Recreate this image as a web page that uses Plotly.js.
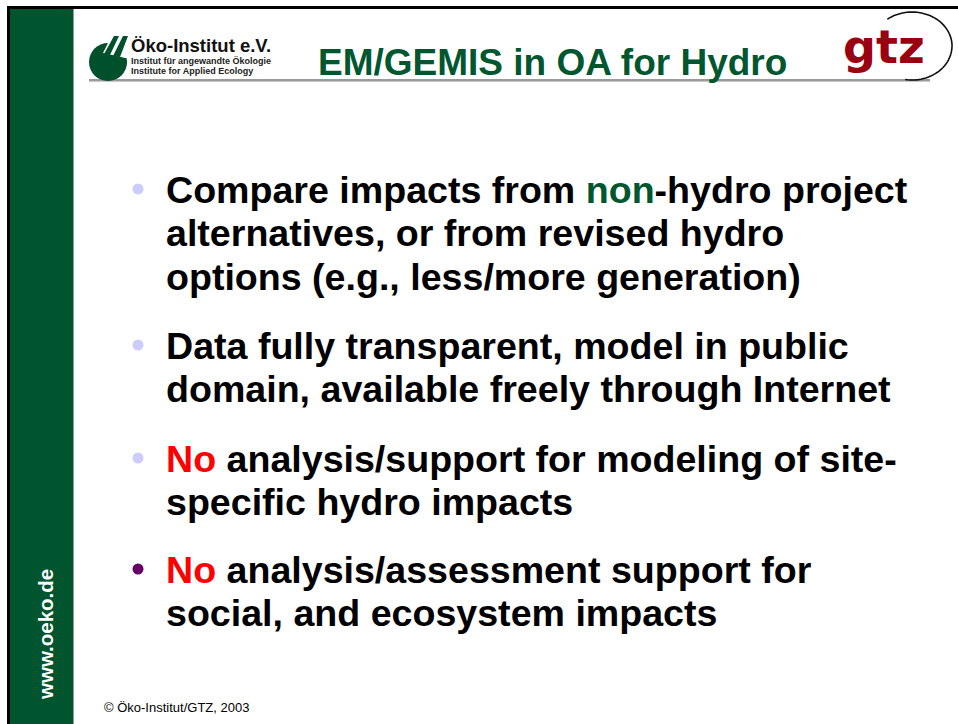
<!DOCTYPE html>
<html>
<head>
<meta charset="utf-8">
<script src="https://cdn.plot.ly/plotly-3.0.1.min.js"></script>
<style>
html,body{margin:0;padding:0;background:#fff;}
#slide{width:958px;height:724px;}
</style>
</head>
<body>
<div id="slide"></div>
<script>
// ---- content ----
const titleText = "EM/GEMIS in OA for Hydro";
const logoName = "Öko-Institut e.V.";
const logoSub = ["Institut für angewandte Ökologie", "Institute for Applied Ecology"];
const sideText = "www.oeko.de";
const footerText = "© Öko-Institut/GTZ, 2003";
const gtzText = "gtz";

const bullet1 = ["Compare impacts from <span style='color:#00562f'>non</span>-hydro project",
                 "alternatives, or from revised hydro",
                 "options (e.g., less/more generation)"];
const bullet2 = ["Data fully transparent, model in public",
                 "domain, available freely through Internet"];
const bullet3 = ["<span style='color:#ff0000'>No</span> analysis/support for modeling of site-",
                 "specific hydro impacts"];
const bullet4 = ["<span style='color:#ff0000'>No</span> analysis/assessment support for",
                 "social, and ecosystem impacts"];
const bullets = [bullet1, bullet2, bullet3, bullet4];
const bulletColors = ["#ccccff", "#ccccff", "#ccccff", "#660066"];

// ---- layout constants ----
const W = 958, H = 724;
const FONT = "Liberation Sans, Arial, sans-serif";
const green = "#00552f";
const bodySize = 37.6;
const firstBaselines = [203, 359, 472, 583];
const lineGap = 43.5;
const textX = 166;
const dotX = 138;

function baseY(baseline, size){ return baseline - 0.3465*size; }

const annotations = [];
function addText(text, x, baseline, size, color, opts){
  annotations.push(Object.assign({
    text: text, x: x, y: baseY(baseline, size), xref: 'x', yref: 'y',
    xanchor: 'left', yanchor: 'middle', showarrow: false,
    borderpad: 0, borderwidth: 0,
    font: {family: FONT, size: size, color: color, weight: 700}
  }, opts || {}));
}

// bullets
const dotXs = [], dotYs = [];
bullets.forEach((lines, i) => {
  lines.forEach((ln, j) => addText(ln, textX, firstBaselines[i] + j*lineGap, bodySize, "#000000"));
  dotXs.push(dotX); dotYs.push(firstBaselines[i] - 14);
});

// title
addText(titleText, 318, 75, 37, "#00572f", {});

// Oeko logo text
addText(logoName, 131, 52, 18.5, "#111111", {});
addText(logoSub[0], 131, 64, 9, "#222222", {});
addText(logoSub[1], 131, 74, 9, "#222222", {});

// gtz letters
addText(gtzText, 843, 63, 46, "#9a0010", {font:{family:"DejaVu Sans, sans-serif", size:46, color:"#9a0010", weight:700}});

// side text
annotations.push({text: sideText, x: 45, y: 635, xref:'x', yref:'y', showarrow:false,
  textangle: -90, xanchor:'center', yanchor:'middle', borderpad:0, borderwidth:0,
  font:{family: FONT, size: 20.5, color:"#ffffff", weight:700}});

// footer
addText(footerText, 104, 712, 13, "#000000", {font:{family:FONT, size:13, color:"#000000", weight:400}});

// ---- shapes ----
const shapes = [
  {type:'rect', xref:'x', yref:'y', x0:10, x1:73, y0:9, y1:H, fillcolor:green, line:{width:0}, layer:'below'},
  {type:'line', xref:'x', yref:'y', x0:73.5, x1:73.5, y0:9, y1:H, line:{color:'#9a9a9a', width:1}},
  {type:'line', xref:'x', yref:'y', x0:7, x1:W, y0:7.5, y1:7.5, line:{color:'#000000', width:3}},
  {type:'line', xref:'x', yref:'y', x0:8.5, x1:8.5, y0:6, y1:H, line:{color:'#000000', width:3}},
  {type:'line', xref:'x', yref:'y', x0:89, x1:930, y0:80, y1:80, line:{color:'#7a7a7a', width:1.5}},
  {type:'line', xref:'x', yref:'y', x0:89, x1:930, y0:81.5, y1:81.5, line:{color:'#c8c8c8', width:1}},
  // Oeko logo disc
  {type:'circle', xref:'x', yref:'y', x0:89, x1:127, y0:43, y1:81, fillcolor:'#00502c', line:{width:0}},
  // white wedge over the top right of the disc
  {type:'path', xref:'x', yref:'y', path:'M 103 53 L 113 33 L 135 33 L 135 58 L 125 58 Z', fillcolor:'#ffffff', line:{width:0}},
  // two slanted ticks
  {type:'path', xref:'x', yref:'y', path:'M 104 54 L 114 36 L 119 36 L 110 55 Z', fillcolor:'#00502c', line:{width:0}},
  {type:'path', xref:'x', yref:'y', path:'M 113 56 L 123 36 L 128 36 L 120 57 Z', fillcolor:'#00502c', line:{width:0}},
  {type:'path', xref:'x', yref:'y', path:'M 110 55 L 120 57 L 127 60 L 126 66 L 108 60 Z', fillcolor:'#00502c', line:{width:0}}
];

// gtz arc (decorative ellipse segment)
let arc = '';
for (let k = 0; k <= 60; k++){
  const t = (128 - k*(228/60)) * Math.PI/180;
  const px = 912 + 40*Math.cos(t), py = 46 - 34*Math.sin(t);
  arc += (k === 0 ? 'M ' : ' L ') + px.toFixed(1) + ' ' + py.toFixed(1);
}
shapes.push({type:'path', xref:'x', yref:'y', path: arc, line:{color:'#111111', width:1.6}});

const traces = [{
  type:'scatter', mode:'markers', x: dotXs, y: dotYs,
  marker:{size:11, color: bulletColors, line:{width:0}},
  hoverinfo:'skip', showlegend:false
}];

const layout = {
  width: W, height: H,
  margin:{l:0, r:0, t:0, b:0, pad:0},
  paper_bgcolor:'#ffffff', plot_bgcolor:'#ffffff',
  xaxis:{range:[0, W], visible:false, fixedrange:true},
  yaxis:{range:[H, 0], visible:false, fixedrange:true},
  showlegend:false,
  annotations: annotations,
  shapes: shapes
};

Plotly.newPlot('slide', traces, layout, {staticPlot:true, displayModeBar:false});
</script>
</body>
</html>
